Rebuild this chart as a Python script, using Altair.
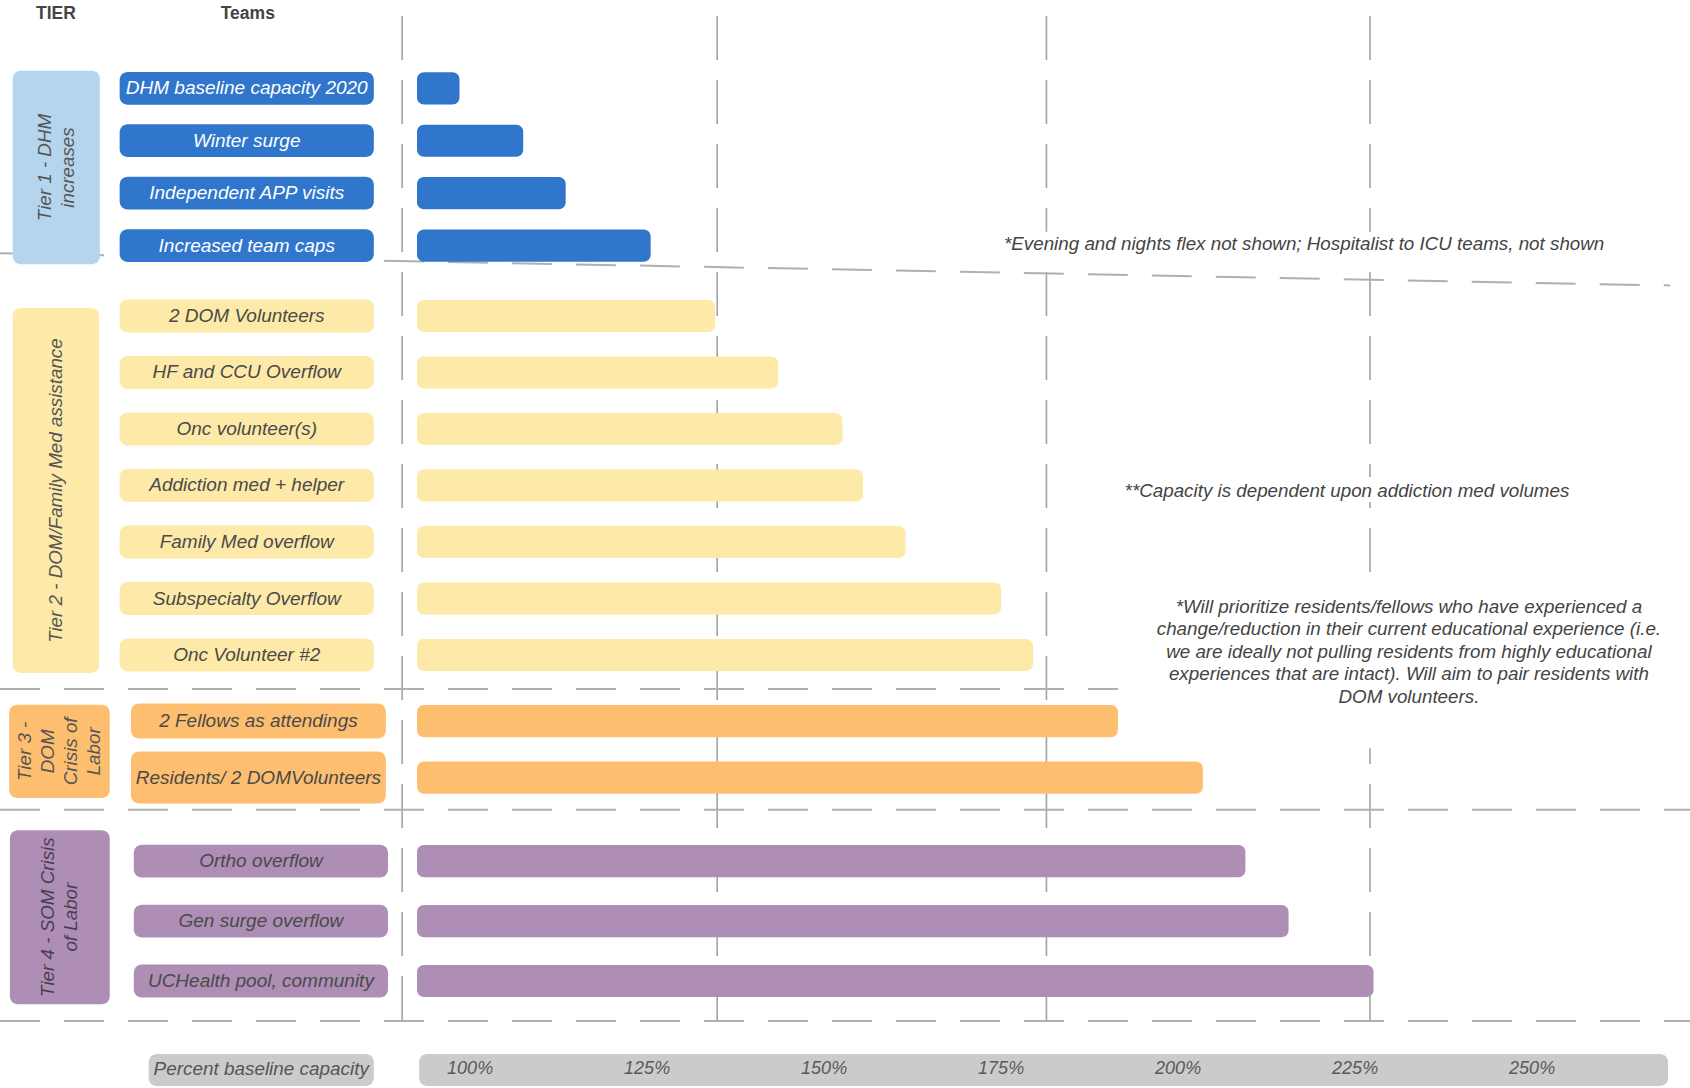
import altair as alt
import pandas as pd

# ---------------- data ----------------
teams = ["DHM baseline capacity 2020", "Winter surge", "Independent APP visits", "Increased team caps",
         "2 DOM Volunteers", "HF and CCU Overflow", "Onc volunteer(s)", "Addiction med + helper",
         "Family Med overflow", "Subspecialty Overflow", "Onc Volunteer #2",
         "2 Fellows as attendings", "Residents/ 2 DOMVolunteers",
         "Ortho overflow", "Gen surge overflow", "UCHealth pool, community"]
team_tier = [1, 1, 1, 1, 2, 2, 2, 2, 2, 2, 2, 3, 3, 4, 4, 4]
capacity_pct = [98.5, 107.5, 113.5, 125.5, 134.6, 143.5, 152.6, 155.5, 161.5, 175, 179.5,
                191.5, 203.5, 209.5, 215.6, 227.6]
bar_start_pct = 92.5

tier_ids = [1, 2, 3, 4]
tier_labels = ["Tier 1 - DHM\nincreases", "Tier 2 - DOM/Family Med  assistance",
               "Tier 3 -\nDOM\nCrisis of\nLabor", "Tier 4 - SOM Crisis\nof Labor"]

tick_values = [100, 125, 150, 175, 200, 225, 250]
guide_pct = [90.4, 134.9, 181.4, 227.1]

note_1 = "*Evening and nights flex not shown; Hospitalist to ICU teams, not shown"
note_2 = "**Capacity is dependent upon addiction med volumes"
note_3 = ("*Will prioritize residents/fellows who have experienced a\n"
          "change/reduction in their current educational experience (i.e.\n"
          "we are ideally not pulling residents from highly educational\n"
          "experiences that are intact).  Will aim to pair residents with\n"
          "DOM volunteers.")

# ---------------- styling / layout ----------------
FONT = "Liberation Sans, Arial, sans-serif"
NARROW = "Liberation Sans Narrow, Liberation Sans, Arial, sans-serif"
bar_fill = {1: "#3076cc", 2: "#fde9a8", 3: "#fdbf6f", 4: "#ae8eb5"}
tier_fill = {1: "#b5d5ef", 2: "#fde9a8", 3: "#fdbf6f", 4: "#ae8eb5"}
team_text = {1: "#ffffff", 2: "#4a4a4a", 3: "#4a4a4a", 4: "#4a4a4a"}
tier_text = {1: "#555555", 2: "#555555", 3: "#555555", 4: "#4b4050"}
tier_first = {1: -0.03, 2: 4.0, 3: 11.17, 4: 13.65}      # row slot of first team in tier
tier_step = {1: 0.928, 2: 1.0, 3: 1.0, 4: 1.06}          # row spacing per tier
team_box_x = {1: (50.5, 86.4), 2: (50.5, 86.4), 3: (52.1, 88.1), 4: (52.5, 88.4)}
tier_box_x = {1: (35.4, 47.7), 2: (35.4, 47.6), 3: (34.9, 49.1), 4: (35.0, 49.1)}
tier_pad = {1: (0.31, 0.33), 2: (0.14, 0.32), 3: (0.29, 0.36), 4: (0.55, 0.41)}
BAR_HALF = 0.285
BOX_HALF = 0.29
TALL = {"Residents/ 2 DOMVolunteers": 0.46, "2 Fellows as attendings": 0.31}
TIER_LH = 23.0          # px line height of rotated tier labels
PX_PER_PCT = 7.08

XDOM = [33.6, 272.3]
YDOM = [-1.5929, 17.6637]
xs = alt.Scale(domain=XDOM, nice=False, zero=False)
ys = alt.Scale(domain=YDOM, nice=False, zero=False, reverse=True)


def X(f):
    return alt.X(f, type="quantitative", scale=xs, axis=None)


def Y(f):
    return alt.Y(f, type="quantitative", scale=ys, axis=None)


# ---------------- tables ----------------
rows = []
count = {}
for t, tier, cap in zip(teams, team_tier, capacity_pct):
    k = count.get(tier, 0)
    count[tier] = k + 1
    slot = tier_first[tier] + k * tier_step[tier]
    bh = TALL.get(t, BOX_HALF)
    bx1, bx2 = team_box_x[tier]
    rows.append(dict(team=t, tier=tier, slot=slot, cap=cap, start=bar_start_pct,
                     fill=bar_fill[tier], tc=team_text[tier],
                     bx1=bx1, bx2=bx2, bxc=(bx1 + bx2) / 2,
                     by1=slot - bh, by2=slot + bh,
                     ry1=slot - BAR_HALF, ry2=slot + BAR_HALF))
rdf = pd.DataFrame(rows)

trows = []
for tid, lab in zip(tier_ids, tier_labels):
    slots = rdf.loc[rdf.tier == tid, "slot"]
    x1, x2 = tier_box_x[tid]
    p1, p2 = tier_pad[tid]
    n_lines = lab.count("\n") + 1
    xc = (x1 + x2) / 2 - (n_lines - 1) * TIER_LH / 2 / PX_PER_PCT
    trows.append(dict(tier=tid, label=lab, x1=x1, x2=x2, xc=xc,
                      y1=slots.min() - p1, y2=slots.max() + p2,
                      yc=(slots.min() - p1 + slots.max() + p2) / 2,
                      fill=tier_fill[tid], tc=tier_text[tid]))
tdf = pd.DataFrame(trows)

vdf = pd.DataFrame(dict(x=guide_pct, y1=[-1.31] * 4, y2=[16.53] * 4))

hdf = pd.DataFrame(dict(x1=[33.6, 33.6, 33.6, 33.6], x2=[269.5, 191.5, 272.3, 272.3],
                        y1=[2.89, 10.60, 12.74, 16.48], y2=[3.46, 10.60, 12.74, 16.48]))

wdf = pd.DataFrame(dict(x1=[174.7, 191.1, 192.5], x2=[260.9, 256.8, 272.3],
                        y1=[2.51, 6.85, 8.53], y2=[2.94, 7.29, 11.65]))

ndf = pd.DataFrame(dict(x=[217.8, 223.85, 232.6], y=[2.73, 7.09, 9.15],
                        text=[note_1, note_2, note_3]))

tickdf = pd.DataFrame(dict(x=tick_values, y=[17.33] * len(tick_values),
                           label=[f"{v}%" for v in tick_values]))

axdf = pd.DataFrame(dict(x1=[92.8, 54.6], x2=[269.2, 86.4], y1=[17.06, 17.06], y2=[17.63, 17.63]))
axlab = pd.DataFrame(dict(x=[70.5], y=[17.33], text=["Percent baseline capacity"]))

head = pd.DataFrame(dict(x=[41.5, 68.6], y=[-1.345, -1.345], text=["TIER", "Teams"]))

# ---------------- layers ----------------
vlines = alt.Chart(vdf).mark_rule(color="#a3a3a3", strokeWidth=1.6, strokeDash=[44, 20]).encode(
    x=X("x"), y=Y("y1"), y2="y2")

hlines = alt.Chart(hdf).mark_rule(color="#b0b0b0", strokeWidth=2, strokeDash=[40, 24]).encode(
    x=X("x1"), x2="x2", y=Y("y1"), y2="y2")

white = alt.Chart(wdf).mark_rect(color="white").encode(
    x=X("x1"), x2="x2", y=Y("y1"), y2="y2")

notes = alt.Chart(ndf).mark_text(font=FONT, fontStyle="italic", fontSize=18.8, color="#444444",
                                 lineBreak="\n", lineHeight=22.4, align="center",
                                 baseline="middle").encode(
    x=X("x"), y=Y("y"), text="text:N")

tier_boxes = alt.Chart(tdf).mark_rect(cornerRadius=8).encode(
    x=X("x1"), x2="x2", y=Y("y1"), y2="y2", color=alt.Color("fill:N", scale=None))

tier_texts = alt.Chart(tdf).mark_text(font=FONT, fontStyle="italic", fontSize=18.8, angle=270,
                                      lineBreak="\n", lineHeight=TIER_LH, align="center",
                                      baseline="middle").encode(
    x=X("xc"), y=Y("yc"), text="label:N", color=alt.Color("tc:N", scale=None))

team_boxes = alt.Chart(rdf).mark_rect(cornerRadius=8).encode(
    x=X("bx1"), x2="bx2", y=Y("by1"), y2="by2", color=alt.Color("fill:N", scale=None))

team_texts = alt.Chart(rdf).mark_text(font=FONT, fontStyle="italic", fontSize=19,
                                      align="center", baseline="middle").encode(
    x=X("bxc"), y=Y("slot"), text="team:N", color=alt.Color("tc:N", scale=None))

bars = alt.Chart(rdf).mark_rect(cornerRadius=7).encode(
    x=X("start"), x2="cap", y=Y("ry1"), y2="ry2", color=alt.Color("fill:N", scale=None),
    tooltip=["team:N", "cap:Q"])

ax_boxes = alt.Chart(axdf).mark_rect(cornerRadius=8, color="#cbcbcb").encode(
    x=X("x1"), x2="x2", y=Y("y1"), y2="y2")

ax_label = alt.Chart(axlab).mark_text(font=FONT, fontStyle="italic", fontSize=18.9, color="#555555",
                                      align="center", baseline="middle").encode(
    x=X("x"), y=Y("y"), text="text:N")

ticks = alt.Chart(tickdf).mark_text(font=NARROW, fontStyle="italic", fontSize=18, color="#5a5a5a",
                                    align="center", baseline="middle").encode(
    x=X("x"), y=Y("y"), text="label:N")

header = alt.Chart(head).mark_text(font=FONT, fontWeight="bold", fontSize=17.5, color="#444444",
                                   align="center", baseline="middle").encode(
    x=X("x"), y=Y("y"), text="text:N")

chart = alt.layer(
    vlines, hlines, white, notes, tier_boxes, tier_texts, team_boxes, team_texts, bars,
    ax_boxes, ax_label, ticks, header
).properties(
    width=1690, height=1088, autosize=alt.AutoSizeParams(type="none"), padding=0,
    background="white"
).configure_view(stroke=None)

chart.save("out.html", embed_options={"renderer": "svg", "actions": False})
